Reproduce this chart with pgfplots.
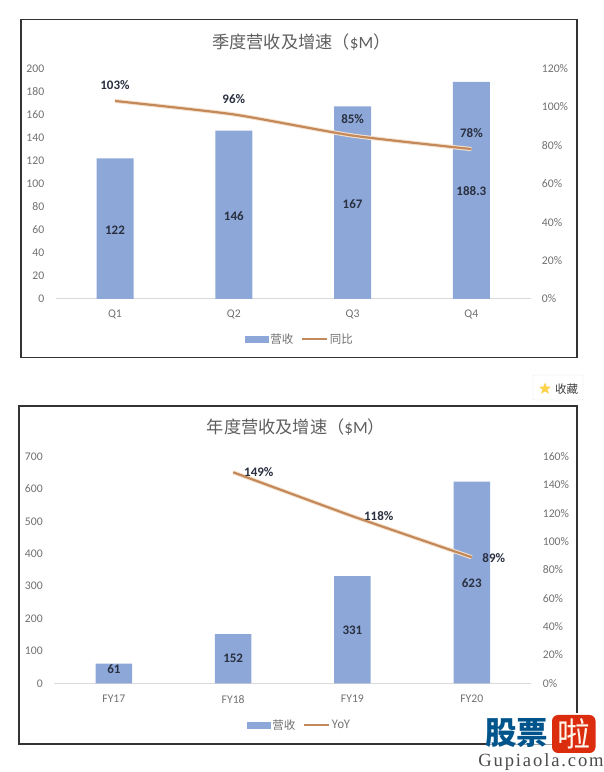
\documentclass[border=0pt]{standalone}
\usepackage{fontspec}
\usepackage{pgfplots}
\pgfplotsset{compat=1.18}
\setmainfont{Carlito}
\newfontfamily\cjk{Noto Sans CJK SC}
\newfontfamily\serifw[LetterSpace=10]{Liberation Serif}
\definecolor{barc}{HTML}{8CA7D8}
\definecolor{linec}{HTML}{C4895A}
\definecolor{halo}{HTML}{F6E3CF}
\definecolor{tickc}{HTML}{707070}
\definecolor{titlec}{HTML}{5E5E5E}
\definecolor{labc}{HTML}{2A3040}
\definecolor{framec}{HTML}{333333}
\pgfplotsset{
  base/.style={
    scale only axis, xmin=-0.5, xmax=3.5, clip=false,
    /pgf/number format/assume math mode=true,
    tick style={draw=none},
    tick label style={font=\fontsize{11.7}{12}\selectfont, text=tickc},
    axis line style={draw=none},
  },
  swatch/.style={legend image code/.code={\fill[barc] (0pt,-3pt) rectangle (23.5pt,3pt);}},
  linesw/.style={legend image code/.code={\draw[linec,line width=2pt] (0pt,0pt) -- (25.5pt,0pt);}},
  leg/.style={
    legend style={draw=none, fill=none, anchor=center, legend columns=2,
      font=\fontsize{11.5}{13}\selectfont\color{tickc}\cjk,
      /tikz/every even column/.append style={column sep=6pt},
      inner sep=0pt, nodes={inner sep=1.5pt}},
  },
  barlab/.style={draw=none, forget plot, mark=none,
    point meta=explicit symbolic,
    nodes near coords, nodes near coords align={center},
    every node near coord/.append style={font=\bfseries\fontsize{13}{14}\selectfont, text=labc, inner sep=0pt}},
}
\pgfplotstableread{
x rev
0 122
1 146
2 167
3 188.3
}\quarterrev
\pgfplotstableread{
x yoy
0 103
1 96
2 85
3 78
}\quarteryoy
\pgfplotstableread{
x rev
0 61
1 152
2 331
3 623
}\yearrev
\pgfplotstableread{
x yoy
1 149
2 118
3 89
}\yearyoy
\begin{document}
\begin{tikzpicture}[x=1pt,y=1pt]
\path (0,0) rectangle (600,772);
% frames
\draw[framec,line width=1.6pt] (20.7,772-19.5) rectangle (576.7,772-357.5);
\draw[framec,line width=1.6pt] (19.2,772-406) rectangle (577,772-744);
% ===== top chart
\begin{axis}[base, at={(55.6pt,473pt)}, anchor=south west, width=475.2pt, height=230.7pt,
  ymin=0, ymax=200, ytick={0,20,...,200},
  axis x line*=bottom, axis y line*=left,
  x axis line style={draw=black!15, line width=1pt},
  yticklabel style={xshift=-7.8pt},
  xtick={0,1,2,3}, xticklabels={Q1,Q2,Q3,Q4},
  xticklabel style={yshift=-7.5pt},
]
\addplot[ybar, bar width=37pt, fill=barc, draw=none, forget plot] table[x=x,y=rev] {\quarterrev};
\addplot[barlab] table[x=x,y=y,meta=l] {
x y l
0 60 122
1 72 146
2 82.5 167
3 93.5 188.3
};
\end{axis}
\begin{axis}[base, leg, at={(55.6pt,473pt)}, anchor=south west, width=475.2pt, height=230.7pt,
  ymin=0, ymax=120, ytick={0,20,...,120}, yticklabels={0\%,20\%,40\%,60\%,80\%,100\%,120\%},
  axis x line=none, axis y line*=right,
  yticklabel style={xshift=7.6pt},
  legend style={at={(244pt,-40pt)}},
]
\addlegendimage{swatch}\addlegendentry{营收}
\addlegendimage{linesw}\addlegendentry{同比}
\addplot[halo, line width=4.2pt, smooth, tension=0.35, forget plot] table[x=x,y=yoy] {\quarteryoy};
\addplot[linec, line width=2.2pt, smooth, tension=0.35, forget plot] table[x=x,y=yoy] {\quarteryoy};
\addplot[barlab] table[x=x,y=y,meta=l] {
x y l
0 111.3 103\%
1 104.2 96\%
2 93.8 85\%
3 86.5 78\%
};
\end{axis}
\node[text=titlec,font=\fontsize{17.2}{20}\selectfont] at (301.5,772-42.5) {{\cjk 季度营收及增速（}\$M{\cjk ）}};
% ===== bottom chart
\begin{axis}[base, at={(54.2pt,88.7pt)}, anchor=south west, width=477.2pt, height=226.6pt,
  ymin=0, ymax=700, ytick={0,100,...,700},
  axis x line*=bottom, axis y line*=left,
  x axis line style={draw=black!15, line width=1pt},
  yticklabel style={xshift=-7.9pt},
  xtick={0,1,2,3}, xticklabels={FY17,FY18,FY19,FY20},
  xticklabel style={yshift=-8.5pt},
]
\addplot[ybar, bar width=36.5pt, fill=barc, draw=none, forget plot] table[x=x,y=rev] {\yearrev};
\addplot[barlab] table[x=x,y=y,meta=l] {
x y l
0 45 61
1 76 152
2 164.6 331
3 310.8 623
};
\end{axis}
\begin{axis}[base, leg, at={(54.2pt,88.7pt)}, anchor=south west, width=477.2pt, height=226.6pt,
  ymin=0, ymax=160, ytick={0,20,...,160}, yticklabels={0\%,20\%,40\%,60\%,80\%,100\%,120\%,140\%,160\%},
  axis x line=none, axis y line*=right,
  yticklabel style={xshift=7.9pt},
  legend style={at={(245pt,-41.7pt)}},
]
\addlegendimage{swatch}\addlegendentry{营收}
\addlegendimage{linesw}\addlegendentry{YoY}
\addplot[halo, line width=4.2pt, smooth, tension=0.2, forget plot] table[x=x,y=yoy] {\yearyoy};
\addplot[linec, line width=2.2pt, smooth, tension=0.2, forget plot] table[x=x,y=yoy] {\yearyoy};
\addplot[barlab] table[x=x,y=y,meta=l] {
x y l
1.215 149.2 149\%
2.22 118.4 118\%
3.185 88.7 89\%
};
\end{axis}
\node[text=titlec,font=\fontsize{17.2}{20}\selectfont] at (296,772-427) {{\cjk 年度营收及增速（}\$M{\cjk ）}};
% ===== collect button
\draw[black!10,fill=white,rounded corners=1pt] (533,772-375) rectangle (583,772-400);
\node[text=black!75,font=\fontsize{11.5}{12}\selectfont\cjk] at (566.5,772-389) {收藏};
\fill[yellow!55!orange!70!white] (545,772-382.5) -- (546.6,772-386.6) -- (551,772-386.8) -- (547.6,772-389.5) -- (548.8,772-393.8) -- (545,772-391.4) -- (541.2,772-393.8) -- (542.4,772-389.5) -- (539,772-386.8) -- (543.4,772-386.6) -- cycle;
% ===== watermark
\fill[white] (486,772-713) rectangle (600,772-772);
\draw[black!35,line width=0.8pt] (486,772-744) -- (552,772-744);
\node[text=blue!40!cyan!55!black,font=\fontsize{31.5}{32}\selectfont\cjk\bfseries,inner sep=0pt] at (516.5,772-733.5) {股票};
\fill[red!70!orange!85!black!95,rounded corners=6pt] (552,772-715) rectangle (595.5,772-753);
\node[text=white!92!orange,font=\fontsize{33}{33}\selectfont\cjk,inner sep=0pt] at (573.5,772-733.5) {啦};
\node[text=black!70,font=\fontsize{18.6}{19}\selectfont\serifw,inner sep=0pt] at (541,772-762) {Gupiaola.com};
\end{tikzpicture}
\end{document}
